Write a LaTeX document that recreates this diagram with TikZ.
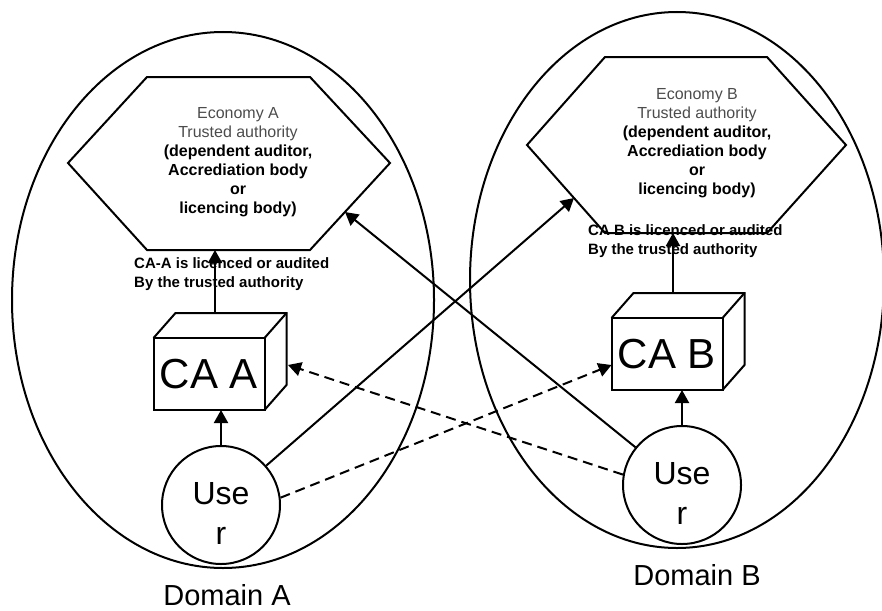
\documentclass[tikz,border=0pt]{standalone}
\usepackage{fontspec}
\setmainfont{Liberation Sans}
\usetikzlibrary{shapes.geometric,arrows.meta}

\newcommand{\tahead}[1]{{\mdseries\color{black!70}#1}}

\tikzset{
  domainell/.style={ellipse, draw, line width=2pt, inner sep=0pt, minimum height=536pt},
  domlbl/.style={inner sep=0pt, font=\fontsize{29}{32}\selectfont},
  hexline/.style={line width=2pt, line join=miter},
  ta/.style={align=center, inner sep=0pt, font=\bfseries\fontsize{16}{19}\selectfont},
  calbl/.style={anchor=west, align=left, inner sep=0pt, font=\bfseries\fontsize{15}{19.5}\selectfont},
  cabox/.style={draw, line width=2pt, minimum width=111pt, minimum height=72pt, inner sep=0pt, outer sep=0pt, font=\fontsize{42}{46}\selectfont},
  boxline/.style={line width=2pt, line join=miter},
  user/.style={circle, draw, line width=2pt, minimum size=118pt, inner sep=0pt},
  usertxt/.style={align=center, inner sep=0pt, font=\fontsize{32}{40}\selectfont},
  arr/.style={line width=2pt, -{Triangle[length=13pt,width=14pt]}},
  dasharr/.style={arr, dash pattern=on 10pt off 6pt},
}

\begin{document}
\begin{tikzpicture}[x=1pt,y=-1pt]
  \useasboundingbox (0,0) rectangle (882,610);

  % domains
  \node[domainell, minimum width=422pt] (domA) at (223,300) {};
  \node[domainell, minimum width=414pt] (domB) at (677,280) {};
  \node[domlbl] (domAlbl) at (227,595) {Domain A};
  \node[domlbl] (domBlbl) at (697,575) {Domain B};

  % trusted authorities
  \draw[hexline] (147,77) -- (310,77) -- (390,163) -- (310,250) -- (147,250) -- (68,163) -- cycle;
  \draw[hexline] (605,57) -- (767,57) -- (846,145) -- (767,233) -- (605,233) -- (527,145) -- cycle;
  \node[ta] (taA) at (238,162) {\tahead{Economy A}\\\tahead{Trusted authority}\\(dependent auditor,\\Accrediation body\\or\\licencing body)};
  \node[ta] (taB) at (697,143) {\tahead{Economy B}\\\tahead{Trusted authority}\\(dependent auditor,\\Accrediation body\\or\\licencing body)};
  \coordinate (taAbot) at (215,250);
  \coordinate (taBbot) at (673,233);
  \coordinate (taAside) at (345,212);
  \coordinate (taBside) at (574,198);

  \node[calbl] (licA) at (134,274) {CA-A is licenced or audited\\By the trusted authority};
  \node[calbl] (licB) at (588,241) {CA B is licenced or audited\\By the trusted authority};

  % certificate authorities
  \node[cabox] (caA) at (209,374) {CA A};
  \draw[boxline] (caA.north west) -- ++(22,-25) -- ++(111,0) -- ++(0,72) -- (caA.south east);
  \draw[boxline] (caA.north east) -- ++(22,-25);
  \coordinate (caAside) at (288,365);

  \node[cabox] (caB) at (667,354) {CA B};
  \draw[boxline] (caB.north west) -- ++(22,-25) -- ++(111,0) -- ++(0,72) -- (caB.south east);
  \draw[boxline] (caB.north east) -- ++(22,-25);

  % users
  \node[user] (userA) at (221,505) {};
  \node[usertxt] (userAtxt) at (221,513) {Use\\r};
  \node[user] (userB) at (682,485) {};
  \node[usertxt] (userBtxt) at (682,493) {Use\\r};

  \draw[arr] (userA.north) -- (userA.north |- caA.south);
  \draw[arr] (userB.north) -- (userB.north |- caB.south);
  \draw[arr] ([shift={(6,-25)}]caA.north) -- (taAbot);
  \draw[arr] ([shift={(6,-25)}]caB.north) -- (taBbot);
  \draw[arr] (userA) -- (taBside);
  \draw[arr] (userB) -- (taAside);
  \draw[dasharr] (userA.7) -- ([yshift=-11pt]caB.west);
  \draw[dasharr] (userB.170) -- (caAside);

\end{tikzpicture}
\end{document}
